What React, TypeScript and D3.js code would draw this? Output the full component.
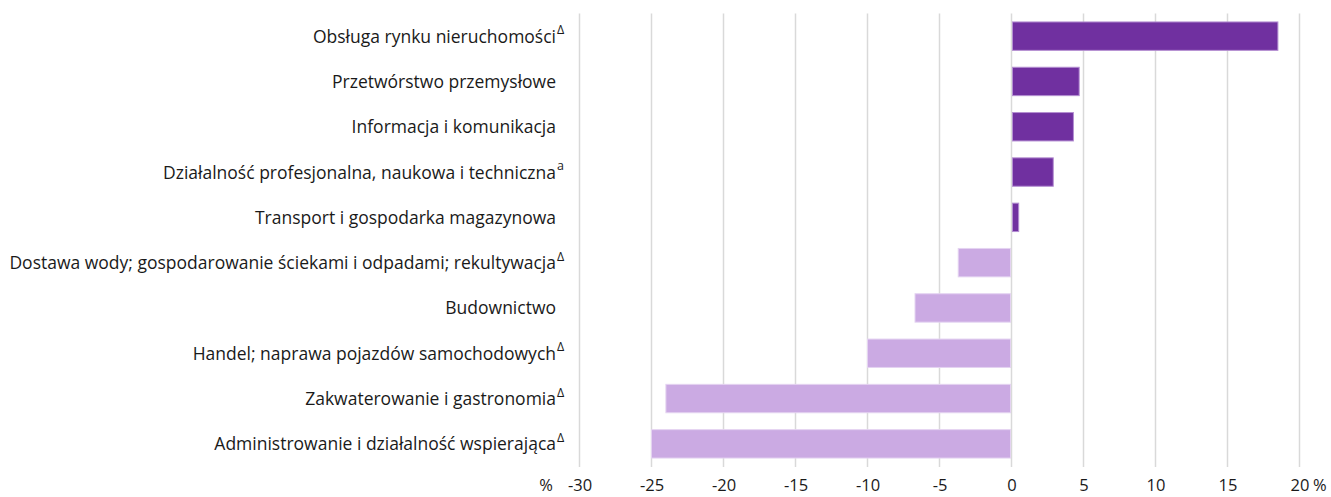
import React, { useEffect, useRef } from "react";
import * as d3 from "d3";

const categories = [
  "Obsługa rynku nieruchomości",
  "Przetwórstwo przemysłowe",
  "Informacja i komunikacja",
  "Działalność profesjonalna, naukowa i techniczna",
  "Transport i gospodarka magazynowa",
  "Dostawa wody; gospodarowanie ściekami i odpadami; rekultywacja",
  "Budownictwo",
  "Handel; naprawa pojazdów samochodowych",
  "Zakwaterowanie i gastronomia",
  "Administrowanie i działalność wspierająca",
];
const notes = ["Δ", "", "", "a", "", "Δ", "", "Δ", "Δ", "Δ"];
const values = [18.5, 4.7, 4.3, 2.9, 0.5, -3.7, -6.7, -10.0, -24.0, -25.0];
const xTicks = [-30, -25, -20, -15, -10, -5, 0, 5, 10, 15, 20];

const W = 1331;
const H = 497;

const App: React.FC = () => {
  const svgRef = useRef<SVGSVGElement>(null);

  useEffect(() => {
    if (!svgRef.current) return;
    const svg = d3.select(svgRef.current);
    svg.selectAll("*").remove();

    const font = "'Open Sans', 'Noto Sans', sans-serif";

    const x = d3.scaleLinear().domain([-30, 20]).range([579.5, 1299.5]);
    const y = d3
      .scaleBand<number>()
      .domain(d3.range(categories.length))
      .range([13.5, 466.5])
      .paddingInner(0.373)
      .paddingOuter(0.1865);

    // grid lines
    svg
      .append("g")
      .selectAll("line")
      .data(xTicks)
      .enter()
      .append("line")
      .attr("x1", (d) => x(d))
      .attr("x2", (d) => x(d))
      .attr("y1", 13.5)
      .attr("y2", 467)
      .attr("stroke", "#d9d9d9")
      .attr("stroke-width", 1.5);

    // bars
    svg
      .append("g")
      .selectAll("rect")
      .data(values)
      .enter()
      .append("rect")
      .attr("x", (d) => x(Math.min(0, d)) + (d >= 0 ? 1 : 0))
      .attr("y", (_, i) => y(i) || 0)
      .attr("width", (d) => Math.abs(x(d) - x(0)) - 1)
      .attr("height", y.bandwidth())
      .attr("fill", (d) => (d >= 0 ? "#7030a0" : "#cbaae3"))
      .attr("stroke", (d) => (d >= 0 ? "#b48fd2" : "#e4d3f1"))
      .attr("stroke-width", 1);

    // category labels
    const labels = svg
      .append("g")
      .selectAll("g")
      .data(categories)
      .enter()
      .append("g")
      .attr("transform", (_, i) => `translate(0,${(y(i) || 0) + y.bandwidth() / 2})`);

    labels
      .append("text")
      .attr("x", 556)
      .attr("y", 6.5)
      .attr("text-anchor", "end")
      .attr("font-family", font)
      .attr("font-size", 17.5)
      .attr("fill", "#1a1a1a")
      .text((d) => d);

    labels
      .append("text")
      .attr("x", 557)
      .attr("y", -2)
      .attr("font-family", font)
      .attr("font-size", 12.5)
      .attr("fill", "#1a1a1a")
      .text((_, i) => notes[i]);

    // x axis labels
    const axis = svg
      .append("g")
      .attr("transform", "translate(0,467)")
      .call(d3.axisBottom(x).tickValues(xTicks).tickSize(0).tickPadding(12).tickFormat((d) => String(d)));
    axis.select(".domain").remove();
    axis
      .selectAll("text")
      .attr("font-family", font)
      .attr("font-size", 16.5)
      .attr("fill", "#1a1a1a");

    svg
      .append("text")
      .attr("x", 546)
      .attr("y", 491)
      .attr("text-anchor", "middle")
      .attr("font-family", font)
      .attr("font-size", 16.5)
      .attr("fill", "#1a1a1a")
      .text("%");
    svg
      .append("text")
      .attr("x", 1313)
      .attr("y", 491)
      .attr("font-family", font)
      .attr("font-size", 16.5)
      .attr("fill", "#1a1a1a")
      .text("%");
  }, []);

  return (
    <svg
      ref={svgRef}
      width={W}
      height={H}
      style={{ position: "absolute", top: 0, left: 0, background: "#fff" }}
    />
  );
};

export default App;
